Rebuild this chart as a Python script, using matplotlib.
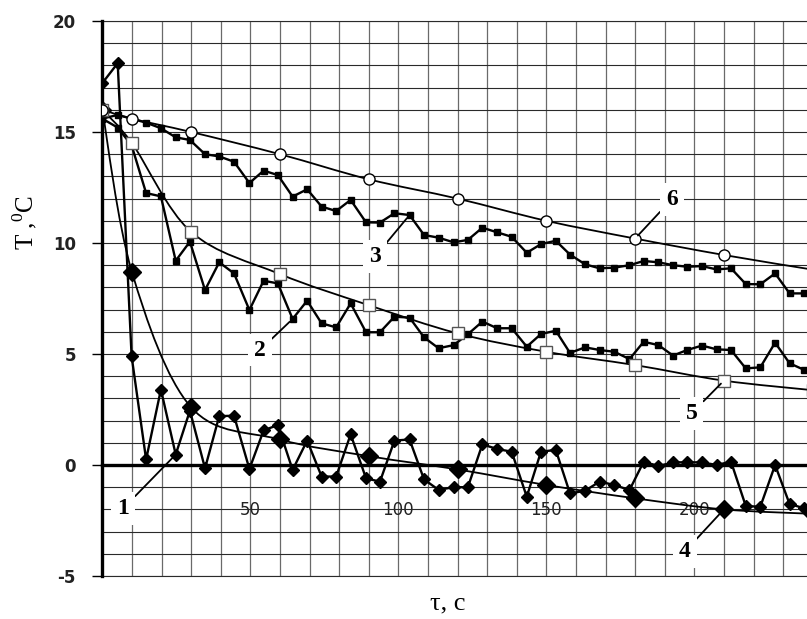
import numpy as np
import matplotlib
matplotlib.use('Agg')
import matplotlib.pyplot as plt
from matplotlib.path import Path
from matplotlib.patches import PathPatch

plt.rcParams['mathtext.fontset'] = 'custom'
plt.rcParams['mathtext.rm'] = 'Liberation Serif'
plt.rcParams['axes.unicode_minus'] = False

# -------------------------
# data
# -------------------------
t = [0, 5.2, 9.9, 14.8, 19.8, 24.8, 29.6, 34.7, 39.5, 44.5,
     49.7, 54.5, 59.3, 64.3, 69.2, 74.1, 79.0, 83.9, 89.1, 93.8,
     98.7, 103.8, 108.7, 113.6, 118.7, 123.5, 128.4, 133.4, 138.3, 143.4,
     148.2, 153.2, 158.0, 163.1, 168.0, 173.0, 178.1, 182.9, 187.9, 192.8,
     197.6, 202.6, 207.5, 212.4, 217.4, 222.3, 227.3, 232.2, 237.2]

T1 = [17.2, 18.1, 4.9, 0.25, 3.4, 0.47, 2.45, -0.15, 2.2, 2.22,
      -0.18, 1.56, 1.8, -0.22, 1.1, -0.52, -0.52, 1.38, -0.6, -0.75,
      1.1, 1.15, -0.65, -1.12, -1.0, -1.0, 0.93, 0.72, 0.6, -1.43,
      0.6, 0.68, -1.28, -1.16, -0.75, -0.9, -1.13, 0.15, -0.05, 0.12,
      0.12, 0.12, 0.0, 0.15, -1.85, -1.88, 0.0, -1.76, -1.95]

T2 = [15.6, 15.2, 14.4, 12.25, 12.1, 9.2, 10.06, 7.88, 9.13, 8.63,
      6.98, 8.3, 8.18, 6.58, 7.4, 6.38, 6.2, 7.28, 5.98, 5.98,
      6.68, 6.64, 5.75, 5.26, 5.4, 5.89, 6.46, 6.16, 6.16, 5.33,
      5.9, 6.05, 5.05, 5.3, 5.18, 5.1, 4.77, 5.55, 5.4, 4.93,
      5.18, 5.38, 5.21, 5.18, 4.35, 4.4, 5.51, 4.58, 4.28]

T3 = [15.6, 15.77, 15.6, 15.42, 15.17, 14.76, 14.64, 14.0, 13.9, 13.66,
      12.7, 13.26, 13.06, 12.09, 12.42, 11.64, 11.44, 11.94, 10.93, 10.92,
      11.34, 11.26, 10.36, 10.24, 10.03, 10.14, 10.69, 10.48, 10.28, 9.56,
      9.95, 10.1, 9.48, 9.04, 8.86, 8.89, 9.0, 9.19, 9.13, 9.0,
      8.93, 8.96, 8.81, 8.86, 8.15, 8.14, 8.63, 7.73, 7.73]

# calculated curves
tc = [0, 10, 30, 60, 90, 120, 150, 180, 210, 240]
T4 = [16.0, 8.7, 2.6, 1.15, 0.4, -0.2, -0.9, -1.5, -2.0, -2.2]
T5 = [16.0, 14.5, 10.5, 8.6, 7.2, 5.93, 5.1, 4.5, 3.8, 3.37]
T6 = [16.0, 15.6, 15.0, 14.0, 12.87, 12.0, 11.0, 10.2, 9.46, 8.8]

# curve labels: (number, text position, point on curve)
labels = [('1', (7.1, -1.95), (24.8, 0.47)),
          ('2', (53.3, 5.18), (64.3, 6.58)),
          ('3', (92.1, 9.38), (103.8, 11.26)),
          ('4', (196.8, -3.9), (210, -2.0)),
          ('5', (199.1, 2.33), (210, 3.8)),
          ('6', (192.4, 11.97), (180, 10.2))]


def smooth_path(x, y):
    # same kind of smoothing as a spreadsheet "smoothed line"
    pts = np.column_stack([x, y]).astype(float)
    n = len(pts)
    verts = [pts[0]]
    codes = [Path.MOVETO]
    for i in range(n - 1):
        p0 = pts[max(i - 1, 0)]
        p1 = pts[i]
        p2 = pts[i + 1]
        p3 = pts[min(i + 2, n - 1)]
        verts += [p1 + (p2 - p0) / 6, p2 - (p3 - p1) / 6, p2]
        codes += [Path.CURVE4] * 3
    return Path(verts, codes)


fig = plt.figure(figsize=(8.07, 6.19), dpi=100)
ax = fig.add_axes([102.3 / 807, 43 / 619, 240 * 2.96 / 807, 555 / 619])
ax.set_xlim(0, 240)
ax.set_ylim(-5, 20)

# grid
ax.set_xticks([50, 100, 150, 200])
ax.set_xticks(np.arange(10, 241, 10), minor=True)
ax.set_yticks(np.arange(-5, 21, 5))
ax.set_yticks(np.arange(-5, 21, 1), minor=True)
ax.grid(True, axis='y', which='both', color='#2a2a2a', lw=0.8, zorder=0)
ax.grid(True, axis='x', which='both', color='#6a6a6a', lw=0.9, zorder=0)
ax.set_axisbelow(True)

for s in ['top', 'right']:
    ax.spines[s].set_visible(False)
ax.spines['left'].set_linewidth(2.4)
ax.spines['bottom'].set_position(('data', 0))
ax.spines['bottom'].set_linewidth(2.4)
ax.spines['left'].set_zorder(1)
ax.spines['bottom'].set_zorder(1)
ax.axhline(20, color='#2a2a2a', lw=0.8, zorder=0, clip_on=False)
ax.axhline(-5, color='#2a2a2a', lw=0.8, zorder=0, clip_on=False)

ax.tick_params(axis='y', which='major', direction='out', length=7, width=1,
               pad=12, labelsize=12)
ax.tick_params(axis='y', which='minor', length=0)
ax.tick_params(axis='x', which='both', length=0, pad=26, labelsize=12)
for lab in ax.get_yticklabels():
    lab.set_fontweight('bold')
    lab.set_color('#222222')
for lab in ax.get_xticklabels():
    lab.set_color('#222222')

# measured series
ax.plot(t, T1, '-D', color='black', lw=1.7, ms=6, zorder=4)
ax.plot(t, T2, '-s', color='black', lw=1.7, ms=4.5, zorder=4)
ax.plot(t, T3, '-s', color='black', lw=1.7, ms=4.5, zorder=4)

# calculated series (smoothed)
for y in [T4, T5, T6]:
    ax.add_patch(PathPatch(smooth_path(tc, y), facecolor='none',
                           edgecolor='black', lw=1.3, zorder=3))
ax.plot(tc, T4, 'D', color='black', ms=9, zorder=5)
ax.plot(tc, T5, 's', mfc='white', mec='#555555', mew=1.0, ms=9, zorder=5)
ax.plot(tc, T6, 'o', mfc='white', mec='black', mew=1.0, ms=8, zorder=5)

for num, xy_text, xy in labels:
    ax.annotate(num, xy=xy, xytext=xy_text, ha='center', va='center',
                fontsize=17, fontweight='bold', family='Liberation Serif',
                bbox=dict(boxstyle='square,pad=0.25', fc='white', ec='none'),
                arrowprops=dict(arrowstyle='-', color='black', lw=1.3,
                                shrinkA=0, shrinkB=3),
                zorder=6)

fig.text(25 / 807, 1 - 223 / 619, r'T ,$^{0}$C', rotation=90, ha='center',
         va='center', fontsize=18, family='Liberation Serif')
fig.text(448 / 807, 1 - 603 / 619, 'τ, с', ha='center', va='center',
         fontsize=19, family='Liberation Serif')

fig.savefig('out.png', dpi=100)
